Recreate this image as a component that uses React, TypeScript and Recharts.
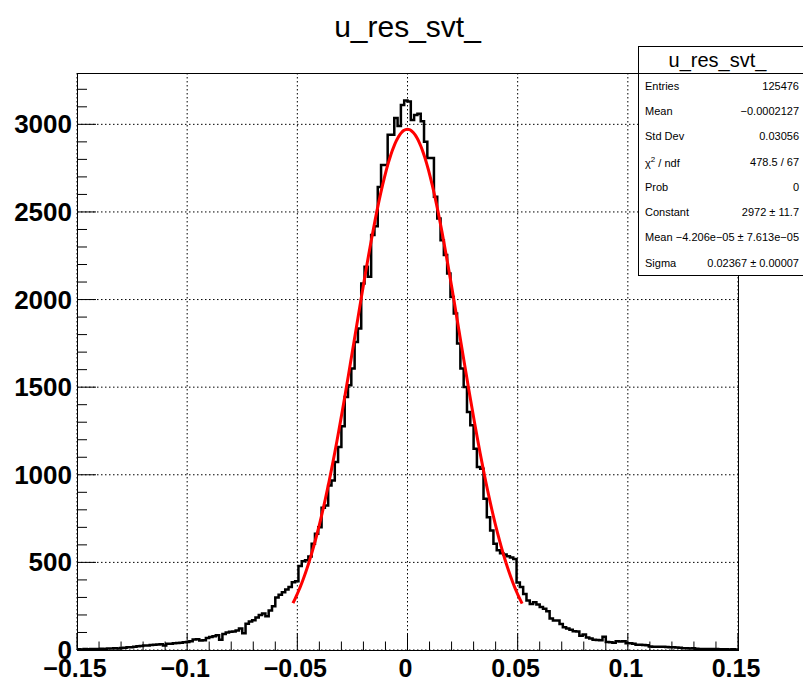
import { ComposedChart, Line, XAxis, YAxis, CartesianGrid } from "recharts";

const FONT = "'Liberation Sans', Arial, Helvetica, sans-serif";

// histogram binning: 200 bins over [-0.15, 0.15]
const BIN_LOW = -0.15;
const BIN_WIDTH = 0.0015;
const COUNTS = [
  4, 3, 5, 4, 5, 6, 5, 7, 6, 8,
  9, 10, 9, 12, 13, 15, 16, 18, 22, 23,
  26, 25, 28, 30, 32, 33, 26, 36, 36, 38,
  40, 42, 44, 46, 50, 60, 62, 54, 56, 68,
  74, 78, 84, 58, 92, 100, 104, 106, 112, 122,
  96, 150, 162, 170, 185, 200, 208, 192, 225, 250,
  300, 316, 330, 345, 360, 387, 392, 480, 507, 512,
  534, 606, 663, 701, 812, 825, 939, 968, 1073, 1158,
  1277, 1444, 1511, 1606, 1758, 1835, 2092, 2187, 2130, 2368,
  2419, 2642, 2768, 2768, 2940, 2940, 3036, 2990, 3111, 3136,
  3130, 3025, 3054, 3060, 3017, 2901, 2808, 2808, 2587, 2463,
  2339, 2254, 2149, 2015, 1920, 1749, 1606, 1501, 1358, 1282,
  1149, 1044, 1035, 863, 758, 682, 606, 570, 552, 545,
  535, 528, 520, 385, 359, 320, 282, 263, 272, 259,
  245, 235, 221, 180, 168, 168, 149, 130, 122, 115,
  107, 105, 82, 88, 72, 66, 58, 57, 55, 76,
  45, 44, 42, 50, 48, 50, 38, 38, 36, 30,
  30, 28, 27, 20, 19, 19, 18, 18, 17, 15,
  15, 14, 13, 10, 10, 9, 10, 7, 6, 6,
  5, 6, 5, 5, 4, 4, 4, 3, 4, 3,
];

// gaussian fit, parameters from the stat box
const FIT_CONSTANT = 2972;
const FIT_MEAN = -4.206e-5;
const FIT_SIGMA = 0.02367;
const FIT_FROM = -0.052;
const FIT_TO = 0.052;

const X_MAJOR = [-0.15, -0.1, -0.05, 0, 0.05, 0.1, 0.15];
const X_LABELS = ["\u22120.15", "\u22120.1", "\u22120.05", "0", "0.05", "0.1", "0.15"];
const X_MINOR = [
  -0.14, -0.13, -0.12, -0.11, -0.09, -0.08, -0.07, -0.06, -0.04, -0.03, -0.02, -0.01,
  0.01, 0.02, 0.03, 0.04, 0.06, 0.07, 0.08, 0.09, 0.11, 0.12, 0.13, 0.14,
];
const Y_MAJOR = [0, 500, 1000, 1500, 2000, 2500, 3000];
const Y_LABELS = ["0", "500", "1000", "1500", "2000", "2500", "3000"];
const Y_MINOR = [
  100, 200, 300, 400, 600, 700, 800, 900, 1100, 1200, 1300, 1400, 1600, 1700, 1800, 1900,
  2100, 2200, 2300, 2400, 2600, 2700, 2800, 2900, 3100, 3200,
];
const Y_MAX = 3293;

const TITLE = "u_res_svt_";
const STAT_NAMES = ["Entries", "Mean", "Std Dev", "chi2", "Prob", "Constant", "Mean", "Sigma"];
const STAT_VALUES = [
  "125476",
  "\u22120.0002127",
  "0.03056",
  "478.5 / 67",
  "0",
  "2972 \u00b1 11.7",
  "\u22124.206e\u221205 \u00b1 7.613e\u221205",
  "0.02367 \u00b1 0.00007",
];

const histData = [
  ...COUNTS.map((c, i) => ({ x: BIN_LOW + i * BIN_WIDTH, y: c })),
  { x: BIN_LOW + COUNTS.length * BIN_WIDTH, y: COUNTS[COUNTS.length - 1] },
];

const FIT_STEPS = 120;
const fitData = Array.from({ length: FIT_STEPS + 1 }, (_, i) => {
  const x = FIT_FROM + ((FIT_TO - FIT_FROM) * i) / FIT_STEPS;
  const z = (x - FIT_MEAN) / FIT_SIGMA;
  return { x, y: FIT_CONSTANT * Math.exp(-0.5 * z * z) };
});

const xTicks = [...X_MAJOR, ...X_MINOR].sort((a, b) => a - b);
const yTicks = [...Y_MAJOR, ...Y_MINOR].sort((a, b) => a - b);

function XTick(props: any) {
  const { x, y, payload } = props;
  const k = X_MAJOR.findIndex((v) => Math.abs(v - payload.value) < 1e-9);
  if (k < 0) return <line x1={x} y1={y} x2={x} y2={y - 8.5} stroke="#000" />;
  return (
    <g>
      <line x1={x} y1={y} x2={x} y2={y - 17} stroke="#000" />
      <text x={x - 2} y={y + 27} textAnchor="middle" fontFamily={FONT} fontWeight="bold" fontSize={25} fill="#000">
        {X_LABELS[k]}
      </text>
    </g>
  );
}

function YTick(props: any) {
  const { x, y, payload } = props;
  const k = Y_MAJOR.indexOf(payload.value);
  if (k < 0) return <line x1={x} y1={y} x2={x + 10} y2={y} stroke="#000" />;
  return (
    <g>
      <line x1={x} y1={y} x2={x + 19} y2={y} stroke="#000" />
      <text x={x - 5} y={y + 9} textAnchor="end" fontFamily={FONT} fontWeight="bold" fontSize={26} fill="#000">
        {Y_LABELS[k]}
      </text>
    </g>
  );
}

function StatBox() {
  return (
    <div
      style={{
        position: "absolute",
        left: 638,
        top: 46,
        width: 180,
        height: 230,
        border: "1px solid #000",
        background: "#fff",
        boxSizing: "border-box",
        fontFamily: FONT,
        color: "#000",
      }}
    >
      <div
        style={{
          position: "absolute",
          left: 0,
          top: 0,
          width: 157,
          height: 26,
          lineHeight: "26px",
          textAlign: "center",
          fontSize: 20,
        }}
      >
        {TITLE}
      </div>
      <div style={{ position: "absolute", left: 0, top: 26, width: 180, borderTop: "1px solid #000" }} />
      {STAT_NAMES.map((name, i) => (
        <div
          key={i}
          style={{
            position: "absolute",
            left: 6,
            top: 26 + i * 25.3,
            width: 154,
            height: 25.3,
            display: "flex",
            justifyContent: "space-between",
            alignItems: "center",
            fontSize: 11,
          }}
        >
          <span>
            {name === "chi2" ? (
              <>
                {"\u03c7"}
                <sup style={{ fontSize: 8 }}>2</sup>
                {" / ndf"}
              </>
            ) : (
              name
            )}
          </span>
          <span>{STAT_VALUES[i]}</span>
        </div>
      ))}
    </div>
  );
}

export default function App() {
  return (
    <div
      style={{
        position: "absolute",
        left: 0,
        top: 0,
        width: 803,
        height: 681,
        overflow: "hidden",
        background: "#fff",
      }}
    >
      <div
        style={{
          position: "absolute",
          left: 0,
          top: 11,
          width: 815,
          textAlign: "center",
          fontFamily: FONT,
          fontSize: 30,
          lineHeight: "32px",
          color: "#000",
        }}
      >
        {TITLE}
      </div>
      <ComposedChart width={803} height={681} margin={{ top: 73, right: 65, bottom: 0, left: 0 }}>
        <CartesianGrid
          horizontalValues={Y_MAJOR}
          verticalValues={X_MAJOR}
          stroke="#000"
          strokeDasharray="1.5 2.5"
        />
        <XAxis
          dataKey="x"
          type="number"
          domain={[-0.15, 0.15]}
          allowDataOverflow
          ticks={xTicks}
          interval={0}
          tick={<XTick />}
          tickLine={false}
          tickSize={0}
          tickMargin={0}
          axisLine={false}
          height={31}
        />
        <YAxis
          type="number"
          domain={[0, Y_MAX]}
          allowDataOverflow
          ticks={yTicks}
          interval={0}
          tick={<YTick />}
          tickLine={false}
          tickSize={0}
          tickMargin={0}
          axisLine={false}
          width={77}
        />
        <Line
          data={histData}
          dataKey="y"
          type="stepAfter"
          stroke="#000"
          strokeWidth={2.5}
          dot={false}
          isAnimationActive={false}
        />
        <Line
          data={fitData}
          dataKey="y"
          type="monotone"
          stroke="#ff0000"
          strokeWidth={3}
          dot={false}
          isAnimationActive={false}
        />
      </ComposedChart>
      <div
        style={{
          position: "absolute",
          left: 77,
          top: 73,
          width: 662,
          height: 578,
          border: "1px solid #000",
          boxSizing: "border-box",
          pointerEvents: "none",
        }}
      />
      <StatBox />
    </div>
  );
}
